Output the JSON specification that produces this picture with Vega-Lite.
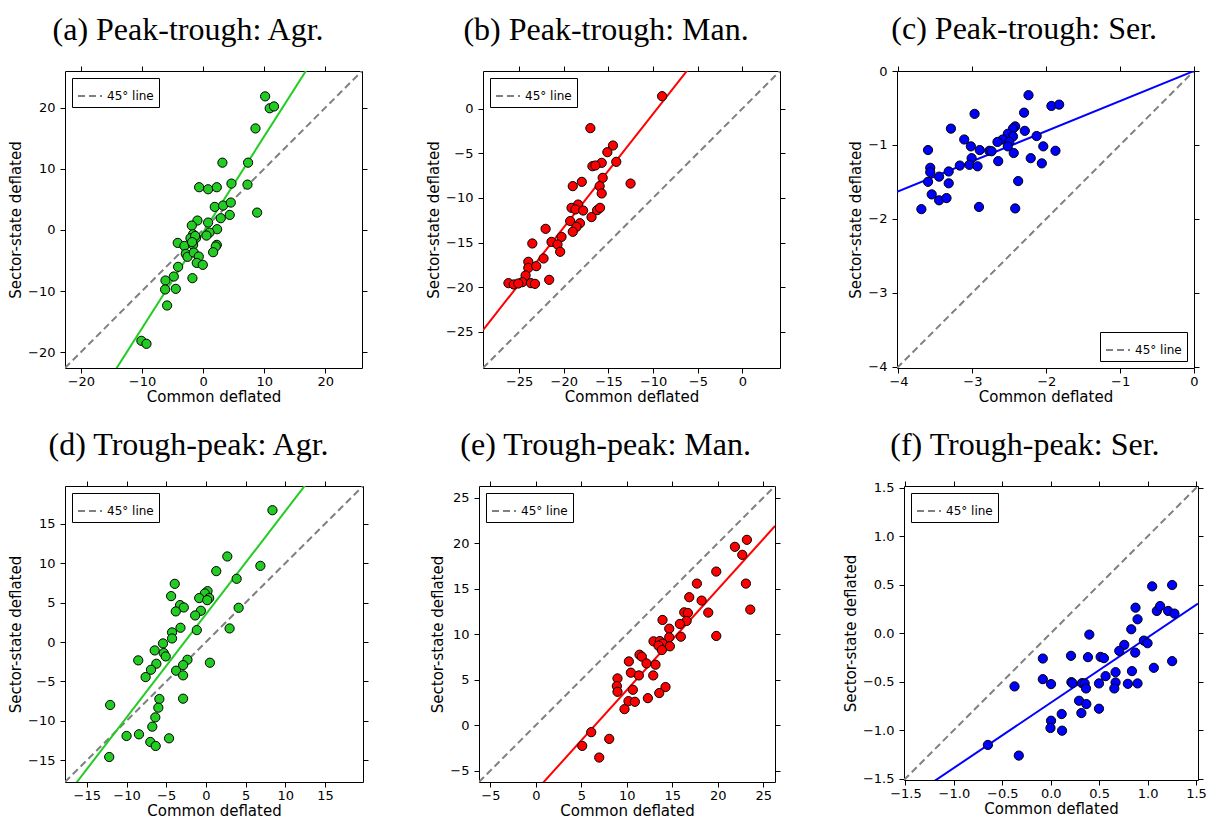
{
"$schema": "https://vega.github.io/schema/vega-lite/v6.json",
"background": "white",
"padding": {"left": 8, "top": 12, "right": 5, "bottom": 5},
"config": {
  "view": {"stroke": "black", "strokeWidth": 1},
  "axis": {"domain": false, "grid": false, "tickSize": 5, "tickColor": "black", "tickWidth": 1, "labelFont": "DejaVu Sans", "labelFontSize": 13, "labelColor": "black", "labelPadding": 5, "labelFlush": false, "labelOverlap": false, "titleFont": "DejaVu Sans", "titleFontSize": 15, "titleFontWeight": "normal", "titleColor": "black", "titlePadding": 4},
  "axisX": {"labelPadding": 2, "titlePadding": 1},
  "legend": {"strokeColor": "black", "fillColor": "white", "padding": 5, "cornerRadius": 0, "labelFont": "DejaVu Sans", "labelFontSize": 12, "labelColor": "black", "symbolType": "stroke", "symbolSize": 576, "symbolStrokeWidth": 2, "symbolStrokeColor": "#808080", "labelOffset": 4, "offset": 7},
  "title": {"font": "Liberation Serif", "fontSize": 32, "fontWeight": "normal", "color": "black", "anchor": "middle", "frame": "bounds", "offset": 19}
},
"datasets": {
  "a_pts": [{"x":10.15,"y":21.85},{"x":10.9,"y":19.9},{"x":11.6,"y":20.2},{"x":8.57,"y":16.6},{"x":3.16,"y":11.0},{"x":7.36,"y":11.0},{"x":-0.65,"y":6.98},{"x":0.82,"y":6.65},{"x":2.24,"y":6.98},{"x":4.64,"y":7.58},{"x":7.26,"y":7.41},{"x":1.91,"y":3.76},{"x":3.27,"y":3.98},{"x":4.53,"y":4.47},{"x":8.84,"y":2.83},{"x":2.89,"y":1.91},{"x":4.36,"y":2.45},{"x":-0.93,"y":1.53},{"x":0.82,"y":1.2},{"x":-1.85,"y":0.71},{"x":2.29,"y":0.11},{"x":1.04,"y":-0.44},{"x":0.55,"y":-0.93},{"x":-1.64,"y":-0.71},{"x":-2.07,"y":-1.36},{"x":-1.15,"y":-1.31},{"x":-4.15,"y":-2.13},{"x":-3.06,"y":-2.62},{"x":-1.64,"y":-2.45},{"x":2.24,"y":-2.45},{"x":2.07,"y":-2.72},{"x":-2.84,"y":-3.92},{"x":-2.56,"y":-4.41},{"x":-1.53,"y":-3.71},{"x":-0.71,"y":-4.36},{"x":1.64,"y":-3.65},{"x":-1.04,"y":-5.4},{"x":-0.05,"y":-5.72},{"x":-4.09,"y":-6.05},{"x":-4.8,"y":-7.63},{"x":-6.16,"y":-8.28},{"x":-6.22,"y":-9.75},{"x":-4.47,"y":-9.65},{"x":-1.75,"y":-7.9},{"x":-5.89,"y":-12.37},{"x":-10.1,"y":-18.15},{"x":-9.27,"y":-18.64},{"x":-1.3,"y":-1.0},{"x":-1.8,"y":-2.0}],
  "a_fit": [{"x":-22.6,"y":-35.88},{"x":26,"y":40.42}],
  "a_diag": [{"x":-22.6,"y":-22.6},{"x":26,"y":26}],
  "b_pts": [{"x":-9.0,"y":1.38},{"x":-17.03,"y":-2.2},{"x":-14.5,"y":-4.14},{"x":-15.13,"y":-4.89},{"x":-15.76,"y":-6.08},{"x":-16.8,"y":-6.46},{"x":-16.47,"y":-6.38},{"x":-14.13,"y":-5.97},{"x":-15.65,"y":-7.76},{"x":-15.99,"y":-8.69},{"x":-15.76,"y":-9.51},{"x":-17.99,"y":-8.21},{"x":-19.0,"y":-8.69},{"x":-12.53,"y":-8.4},{"x":-19.14,"y":-11.12},{"x":-18.4,"y":-10.75},{"x":-18.7,"y":-11.3},{"x":-17.84,"y":-11.42},{"x":-16.28,"y":-11.38},{"x":-15.95,"y":-11.12},{"x":-16.9,"y":-12.16},{"x":-19.29,"y":-12.6},{"x":-18.2,"y":-12.84},{"x":-18.59,"y":-13.25},{"x":-19.0,"y":-13.8},{"x":-22.04,"y":-13.47},{"x":-20.26,"y":-14.37},{"x":-21.38,"y":-14.93},{"x":-20.71,"y":-15.22},{"x":-23.53,"y":-15.11},{"x":-20.41,"y":-16.04},{"x":-22.27,"y":-16.79},{"x":-23.98,"y":-17.16},{"x":-23.98,"y":-17.84},{"x":-23.09,"y":-17.65},{"x":-24.28,"y":-18.69},{"x":-26.2,"y":-19.55},{"x":-25.6,"y":-19.7},{"x":-24.65,"y":-19.44},{"x":-23.68,"y":-19.55},{"x":-23.23,"y":-19.63},{"x":-21.64,"y":-19.18},{"x":-25.1,"y":-19.59}],
  "b_fit": [{"x":-29.05,"y":-24.8},{"x":4.2,"y":17.46}],
  "b_diag": [{"x":-29.05,"y":-29.05},{"x":4.2,"y":4.2}],
  "c_pts": [{"x":-2.24,"y":-0.327},{"x":-1.93,"y":-0.473},{"x":-1.825,"y":-0.455},{"x":-2.97,"y":-0.58},{"x":-2.3,"y":-0.564},{"x":-3.29,"y":-0.78},{"x":-2.42,"y":-0.75},{"x":-2.45,"y":-0.78},{"x":-2.29,"y":-0.81},{"x":-2.52,"y":-0.85},{"x":-2.45,"y":-0.886},{"x":-2.13,"y":-0.88},{"x":-3.11,"y":-0.927},{"x":-2.59,"y":-0.927},{"x":-2.66,"y":-0.96},{"x":-2.5,"y":-0.96},{"x":-3.02,"y":-1.02},{"x":-2.52,"y":-1.02},{"x":-2.04,"y":-1.02},{"x":-3.6,"y":-1.07},{"x":-2.9,"y":-1.07},{"x":-2.77,"y":-1.08},{"x":-2.74,"y":-1.086},{"x":-1.875,"y":-1.08},{"x":-2.44,"y":-1.11},{"x":-3.01,"y":-1.18},{"x":-2.21,"y":-1.18},{"x":-2.65,"y":-1.22},{"x":-3.17,"y":-1.28},{"x":-3.04,"y":-1.27},{"x":-2.93,"y":-1.29},{"x":-2.06,"y":-1.25},{"x":-3.57,"y":-1.31},{"x":-3.57,"y":-1.37},{"x":-3.32,"y":-1.36},{"x":-3.45,"y":-1.43},{"x":-3.6,"y":-1.5},{"x":-3.32,"y":-1.52},{"x":-2.38,"y":-1.49},{"x":-3.55,"y":-1.67},{"x":-3.45,"y":-1.75},{"x":-3.35,"y":-1.72},{"x":-3.69,"y":-1.87},{"x":-2.91,"y":-1.84},{"x":-2.42,"y":-1.86}],
  "c_fit": [{"x":-4.02,"y":-1.636},{"x":0,"y":0}],
  "c_diag": [{"x":-4.02,"y":-4.02},{"x":0,"y":0}],
  "d_pts": [{"x":8.39,"y":16.73},{"x":2.7,"y":10.86},{"x":6.87,"y":9.67},{"x":1.31,"y":9.0},{"x":3.88,"y":8.03},{"x":-3.92,"y":7.39},{"x":-4.38,"y":5.83},{"x":0.21,"y":6.46},{"x":-0.13,"y":6.17},{"x":-0.84,"y":5.58},{"x":0.42,"y":5.58},{"x":0.17,"y":5.32},{"x":-3.25,"y":4.69},{"x":-2.78,"y":4.39},{"x":-3.79,"y":3.89},{"x":-0.63,"y":3.97},{"x":-1.35,"y":3.38},{"x":4.13,"y":4.35},{"x":-3.2,"y":1.82},{"x":-1.14,"y":1.52},{"x":2.99,"y":1.73},{"x":-4.26,"y":1.23},{"x":-4.26,"y":0.46},{"x":-5.4,"y":-0.17},{"x":-6.45,"y":-1.06},{"x":-5.31,"y":-1.39},{"x":-5.06,"y":-1.82},{"x":-8.52,"y":-2.32},{"x":-2.32,"y":-2.24},{"x":-2.87,"y":-2.92},{"x":-6.24,"y":-2.75},{"x":-6.91,"y":-3.51},{"x":-3.75,"y":-3.63},{"x":-7.59,"y":-4.44},{"x":-2.87,"y":-4.22},{"x":0.51,"y":-2.62},{"x":-5.86,"y":-7.22},{"x":-5.99,"y":-8.32},{"x":-2.87,"y":-7.18},{"x":-12.06,"y":-7.98},{"x":-6.37,"y":-9.55},{"x":-6.75,"y":-10.73},{"x":-9.99,"y":-11.91},{"x":-8.43,"y":-11.7},{"x":-4.64,"y":-12.21},{"x":-7.0,"y":-12.67},{"x":-6.32,"y":-13.18},{"x":-12.18,"y":-14.58}],
  "d_fit": [{"x":-17.75,"y":-19.72},{"x":19.8,"y":29.43}],
  "d_diag": [{"x":-17.75,"y":-17.75},{"x":19.8,"y":19.8}],
  "e_pts": [{"x":23.21,"y":20.38},{"x":21.89,"y":19.61},{"x":22.7,"y":18.73},{"x":19.84,"y":16.89},{"x":17.71,"y":15.57},{"x":23.1,"y":15.57},{"x":16.87,"y":14.07},{"x":18.23,"y":13.7},{"x":23.58,"y":12.71},{"x":16.32,"y":12.41},{"x":16.72,"y":12.34},{"x":18.96,"y":12.38},{"x":16.58,"y":11.46},{"x":15.84,"y":11.13},{"x":13.93,"y":11.57},{"x":14.67,"y":10.61},{"x":15.95,"y":9.73},{"x":19.84,"y":9.81},{"x":14.67,"y":9.66},{"x":12.94,"y":9.22},{"x":13.64,"y":9.25},{"x":13.93,"y":8.96},{"x":13.49,"y":8.74},{"x":14.74,"y":8.67},{"x":13.86,"y":8.26},{"x":11.4,"y":7.75},{"x":11.66,"y":7.53},{"x":12.17,"y":6.79},{"x":13.16,"y":6.65},{"x":10.23,"y":7.01},{"x":10.45,"y":5.77},{"x":11.33,"y":5.47},{"x":12.91,"y":5.47},{"x":8.98,"y":5.14},{"x":8.91,"y":4.3},{"x":8.98,"y":3.67},{"x":10.67,"y":3.89},{"x":14.26,"y":4.19},{"x":13.57,"y":3.53},{"x":10.19,"y":2.64},{"x":10.89,"y":2.57},{"x":12.32,"y":2.97},{"x":9.75,"y":1.76},{"x":6.09,"y":-0.77},{"x":8.07,"y":-1.51},{"x":5.1,"y":-2.28},{"x":6.97,"y":-3.56}],
  "e_fit": [{"x":-6.25,"y":-14.13},{"x":26.3,"y":21.9}],
  "e_diag": [{"x":-6.25,"y":-6.25},{"x":26.3,"y":26.3}],
  "f_pts": [{"x":1.047,"y":0.484},{"x":1.253,"y":0.498},{"x":0.875,"y":0.264},{"x":1.095,"y":0.23},{"x":1.129,"y":0.281},{"x":1.212,"y":0.23},{"x":1.277,"y":0.203},{"x":0.896,"y":0.144},{"x":0.831,"y":0.041},{"x":0.398,"y":-0.014},{"x":0.961,"y":-0.076},{"x":0.999,"y":-0.103},{"x":0.759,"y":-0.12},{"x":0.707,"y":-0.182},{"x":0.872,"y":-0.2},{"x":-0.082,"y":-0.261},{"x":0.209,"y":-0.233},{"x":0.384,"y":-0.247},{"x":0.515,"y":-0.244},{"x":0.549,"y":-0.257},{"x":1.253,"y":-0.288},{"x":1.064,"y":-0.357},{"x":0.669,"y":-0.402},{"x":0.838,"y":-0.391},{"x":0.566,"y":-0.443},{"x":-0.082,"y":-0.474},{"x":0.003,"y":-0.525},{"x":0.213,"y":-0.505},{"x":0.223,"y":-0.515},{"x":0.323,"y":-0.515},{"x":0.35,"y":-0.518},{"x":0.498,"y":-0.518},{"x":0.669,"y":-0.508},{"x":0.796,"y":-0.522},{"x":0.896,"y":-0.518},{"x":-0.374,"y":-0.549},{"x":0.364,"y":-0.57},{"x":0.656,"y":-0.57},{"x":0.292,"y":-0.697},{"x":0.367,"y":-0.731},{"x":0.316,"y":-0.824},{"x":0.498,"y":-0.779},{"x":0.113,"y":-0.834},{"x":0.003,"y":-0.903},{"x":-0.003,"y":-0.978},{"x":0.117,"y":-1.006},{"x":-0.649,"y":-1.153},{"x":-0.33,"y":-1.263}],
  "f_fit": [{"x":-1.515,"y":-1.737},{"x":1.52,"y":0.306}],
  "f_diag": [{"x":-1.515,"y":-1.515},{"x":1.52,"y":1.52}]
},
"vconcat": [
 {"hconcat": [
   {"width": 297, "height": 297, "title": "(a) Peak-trough: Agr.",
    "layer": [
     {"data": {"name": "a_diag"}, "mark": {"type": "line", "clip": true, "color": "#808080", "strokeWidth": 2},
      "encoding": {
       "x": {"field": "x", "type": "quantitative", "scale": {"domain": [-22.6, 26], "nice": false, "zero": false}, "axis": {"values": [-20, -10, 0, 10, 20], "title": "Common deflated"}},
       "y": {"field": "y", "type": "quantitative", "scale": {"domain": [-22.6, 26], "nice": false, "zero": false}, "axis": {"values": [-20, -10, 0, 10, 20], "title": "Sector-state deflated"}},
       "strokeDash": {"datum": "45° line", "type": "nominal", "scale": {"range": [[7, 4]]}, "legend": {"title": null, "orient": "top-left"}}}},
     {"data": {"name": "a_fit"}, "mark": {"type": "line", "clip": true, "color": "#22cc22", "strokeWidth": 2},
      "encoding": {
       "x": {"field": "x", "type": "quantitative", "scale": {"domain": [-22.6, 26], "nice": false, "zero": false}, "axis": null},
       "y": {"field": "y", "type": "quantitative", "scale": {"domain": [-22.6, 26], "nice": false, "zero": false}, "axis": null}}},
     {"data": {"name": "a_pts"}, "mark": {"type": "circle", "fill": "#22cc22", "stroke": "black", "strokeWidth": 1, "size": 85, "opacity": 1},
      "encoding": {
       "x": {"field": "x", "type": "quantitative", "scale": {"domain": [-22.6, 26], "nice": false, "zero": false}, "axis": {"orient": "top", "labels": false, "title": null, "values": [-20, -10, 0, 10, 20]}},
       "y": {"field": "y", "type": "quantitative", "scale": {"domain": [-22.6, 26], "nice": false, "zero": false}, "axis": {"orient": "right", "labels": false, "title": null, "values": [-20, -10, 0, 10, 20]}}}}
    ],
    "resolve": {"axis": {"x": "independent", "y": "independent"}}},
   {"hconcat": [
     {"width": 297, "height": 297, "title": "(b) Peak-trough: Man.",
      "layer": [
       {"data": {"name": "b_diag"}, "mark": {"type": "line", "clip": true, "color": "#808080", "strokeWidth": 2},
        "encoding": {
         "x": {"field": "x", "type": "quantitative", "scale": {"domain": [-29.05, 4.2], "nice": false, "zero": false}, "axis": {"values": [-25, -20, -15, -10, -5, 0], "title": "Common deflated"}},
         "y": {"field": "y", "type": "quantitative", "scale": {"domain": [-29.05, 4.2], "nice": false, "zero": false}, "axis": {"values": [-25, -20, -15, -10, -5, 0], "title": "Sector-state deflated"}},
         "strokeDash": {"datum": "45° line", "type": "nominal", "scale": {"range": [[7, 4]]}, "legend": {"title": null, "orient": "top-left"}}}},
       {"data": {"name": "b_fit"}, "mark": {"type": "line", "clip": true, "color": "#ff0000", "strokeWidth": 2},
        "encoding": {
         "x": {"field": "x", "type": "quantitative", "scale": {"domain": [-29.05, 4.2], "nice": false, "zero": false}, "axis": null},
         "y": {"field": "y", "type": "quantitative", "scale": {"domain": [-29.05, 4.2], "nice": false, "zero": false}, "axis": null}}},
       {"data": {"name": "b_pts"}, "mark": {"type": "circle", "fill": "#ff0000", "stroke": "black", "strokeWidth": 1, "size": 85, "opacity": 1},
        "encoding": {
         "x": {"field": "x", "type": "quantitative", "scale": {"domain": [-29.05, 4.2], "nice": false, "zero": false}, "axis": {"orient": "top", "labels": false, "title": null, "values": [-25, -20, -15, -10, -5, 0]}},
         "y": {"field": "y", "type": "quantitative", "scale": {"domain": [-29.05, 4.2], "nice": false, "zero": false}, "axis": {"orient": "right", "labels": false, "title": null, "values": [-25, -20, -15, -10, -5, 0]}}}}
      ],
      "resolve": {"axis": {"x": "independent", "y": "independent"}}},
     {"width": 297, "height": 297, "title": "(c) Peak-trough: Ser.",
      "layer": [
       {"data": {"name": "c_diag"}, "mark": {"type": "line", "clip": true, "color": "#808080", "strokeWidth": 2},
        "encoding": {
         "x": {"field": "x", "type": "quantitative", "scale": {"domain": [-4.02, 0], "nice": false, "zero": false}, "axis": {"values": [-4, -3, -2, -1, 0], "title": "Common deflated"}},
         "y": {"field": "y", "type": "quantitative", "scale": {"domain": [-4.02, 0], "nice": false, "zero": false}, "axis": {"values": [-4, -3, -2, -1, 0], "title": "Sector-state deflated"}},
         "strokeDash": {"datum": "45° line", "type": "nominal", "scale": {"range": [[7, 4]]}, "legend": {"title": null, "orient": "bottom-right", "offset": 7}}}},
       {"data": {"name": "c_fit"}, "mark": {"type": "line", "clip": true, "color": "#0000ff", "strokeWidth": 2},
        "encoding": {
         "x": {"field": "x", "type": "quantitative", "scale": {"domain": [-4.02, 0], "nice": false, "zero": false}, "axis": null},
         "y": {"field": "y", "type": "quantitative", "scale": {"domain": [-4.02, 0], "nice": false, "zero": false}, "axis": null}}},
       {"data": {"name": "c_pts"}, "mark": {"type": "circle", "fill": "#0000ff", "stroke": "black", "strokeWidth": 1, "size": 85, "opacity": 1},
        "encoding": {
         "x": {"field": "x", "type": "quantitative", "scale": {"domain": [-4.02, 0], "nice": false, "zero": false}, "axis": {"orient": "top", "labels": false, "title": null, "values": [-4, -3, -2, -1, 0]}},
         "y": {"field": "y", "type": "quantitative", "scale": {"domain": [-4.02, 0], "nice": false, "zero": false}, "axis": {"orient": "right", "labels": false, "title": null, "values": [-4, -3, -2, -1, 0]}}}}
      ],
      "resolve": {"axis": {"x": "independent", "y": "independent"}}}
    ],
    "spacing": 117, "bounds": "flush",
    "resolve": {"scale": {"strokeDash": "independent"}, "legend": {"strokeDash": "independent"}}}
  ],
  "spacing": 121, "bounds": "flush",
  "resolve": {"scale": {"strokeDash": "independent"}, "legend": {"strokeDash": "independent"}}},
 {"hconcat": [
   {"width": 298, "height": 296, "title": "(d) Trough-peak: Agr.",
    "layer": [
     {"data": {"name": "d_diag"}, "mark": {"type": "line", "clip": true, "color": "#808080", "strokeWidth": 2},
      "encoding": {
       "x": {"field": "x", "type": "quantitative", "scale": {"domain": [-17.75, 19.8], "nice": false, "zero": false}, "axis": {"values": [-15, -10, -5, 0, 5, 10, 15], "title": "Common deflated"}},
       "y": {"field": "y", "type": "quantitative", "scale": {"domain": [-17.75, 19.8], "nice": false, "zero": false}, "axis": {"values": [-15, -10, -5, 0, 5, 10, 15], "title": "Sector-state deflated"}},
       "strokeDash": {"datum": "45° line", "type": "nominal", "scale": {"range": [[7, 4]]}, "legend": {"title": null, "orient": "top-left"}}}},
     {"data": {"name": "d_fit"}, "mark": {"type": "line", "clip": true, "color": "#22cc22", "strokeWidth": 2},
      "encoding": {
       "x": {"field": "x", "type": "quantitative", "scale": {"domain": [-17.75, 19.8], "nice": false, "zero": false}, "axis": null},
       "y": {"field": "y", "type": "quantitative", "scale": {"domain": [-17.75, 19.8], "nice": false, "zero": false}, "axis": null}}},
     {"data": {"name": "d_pts"}, "mark": {"type": "circle", "fill": "#22cc22", "stroke": "black", "strokeWidth": 1, "size": 85, "opacity": 1},
      "encoding": {
       "x": {"field": "x", "type": "quantitative", "scale": {"domain": [-17.75, 19.8], "nice": false, "zero": false}, "axis": {"orient": "top", "labels": false, "title": null, "values": [-15, -10, -5, 0, 5, 10, 15]}},
       "y": {"field": "y", "type": "quantitative", "scale": {"domain": [-17.75, 19.8], "nice": false, "zero": false}, "axis": {"orient": "right", "labels": false, "title": null, "values": [-15, -10, -5, 0, 5, 10, 15]}}}}
    ],
    "resolve": {"axis": {"x": "independent", "y": "independent"}}},
   {"hconcat": [
     {"width": 296, "height": 296, "title": "(e) Trough-peak: Man.",
      "layer": [
       {"data": {"name": "e_diag"}, "mark": {"type": "line", "clip": true, "color": "#808080", "strokeWidth": 2},
        "encoding": {
         "x": {"field": "x", "type": "quantitative", "scale": {"domain": [-6.25, 26.3], "nice": false, "zero": false}, "axis": {"values": [-5, 0, 5, 10, 15, 20, 25], "title": "Common deflated"}},
         "y": {"field": "y", "type": "quantitative", "scale": {"domain": [-6.25, 26.3], "nice": false, "zero": false}, "axis": {"values": [-5, 0, 5, 10, 15, 20, 25], "title": "Sector-state deflated"}},
         "strokeDash": {"datum": "45° line", "type": "nominal", "scale": {"range": [[7, 4]]}, "legend": {"title": null, "orient": "top-left"}}}},
       {"data": {"name": "e_fit"}, "mark": {"type": "line", "clip": true, "color": "#ff0000", "strokeWidth": 2},
        "encoding": {
         "x": {"field": "x", "type": "quantitative", "scale": {"domain": [-6.25, 26.3], "nice": false, "zero": false}, "axis": null},
         "y": {"field": "y", "type": "quantitative", "scale": {"domain": [-6.25, 26.3], "nice": false, "zero": false}, "axis": null}}},
       {"data": {"name": "e_pts"}, "mark": {"type": "circle", "fill": "#ff0000", "stroke": "black", "strokeWidth": 1, "size": 85, "opacity": 1},
        "encoding": {
         "x": {"field": "x", "type": "quantitative", "scale": {"domain": [-6.25, 26.3], "nice": false, "zero": false}, "axis": {"orient": "top", "labels": false, "title": null, "values": [-5, 0, 5, 10, 15, 20, 25]}},
         "y": {"field": "y", "type": "quantitative", "scale": {"domain": [-6.25, 26.3], "nice": false, "zero": false}, "axis": {"orient": "right", "labels": false, "title": null, "values": [-5, 0, 5, 10, 15, 20, 25]}}}}
      ],
      "resolve": {"axis": {"x": "independent", "y": "independent"}}},
     {"width": 294, "height": 294, "title": "(f) Trough-peak: Ser.",
      "layer": [
       {"data": {"name": "f_diag"}, "mark": {"type": "line", "clip": true, "color": "#808080", "strokeWidth": 2},
        "encoding": {
         "x": {"field": "x", "type": "quantitative", "scale": {"domain": [-1.515, 1.52], "nice": false, "zero": false}, "axis": {"values": [-1.5, -1, -0.5, 0, 0.5, 1, 1.5], "format": ".1f", "title": "Common deflated"}},
         "y": {"field": "y", "type": "quantitative", "scale": {"domain": [-1.515, 1.52], "nice": false, "zero": false}, "axis": {"values": [-1.5, -1, -0.5, 0, 0.5, 1, 1.5], "format": ".1f", "title": "Sector-state deflated"}},
         "strokeDash": {"datum": "45° line", "type": "nominal", "scale": {"range": [[7, 4]]}, "legend": {"title": null, "orient": "top-left"}}}},
       {"data": {"name": "f_fit"}, "mark": {"type": "line", "clip": true, "color": "#0000ff", "strokeWidth": 2},
        "encoding": {
         "x": {"field": "x", "type": "quantitative", "scale": {"domain": [-1.515, 1.52], "nice": false, "zero": false}, "axis": null},
         "y": {"field": "y", "type": "quantitative", "scale": {"domain": [-1.515, 1.52], "nice": false, "zero": false}, "axis": null}}},
       {"data": {"name": "f_pts"}, "mark": {"type": "circle", "fill": "#0000ff", "stroke": "black", "strokeWidth": 1, "size": 85, "opacity": 1},
        "encoding": {
         "x": {"field": "x", "type": "quantitative", "scale": {"domain": [-1.515, 1.52], "nice": false, "zero": false}, "axis": {"orient": "top", "labels": false, "title": null, "values": [-1.5, -1, -0.5, 0, 0.5, 1, 1.5]}},
         "y": {"field": "y", "type": "quantitative", "scale": {"domain": [-1.515, 1.52], "nice": false, "zero": false}, "axis": {"orient": "right", "labels": false, "title": null, "values": [-1.5, -1, -0.5, 0, 0.5, 1, 1.5]}}}}
      ],
      "resolve": {"axis": {"x": "independent", "y": "independent"}}}
    ],
    "spacing": 129, "bounds": "flush",
    "resolve": {"scale": {"strokeDash": "independent"}, "legend": {"strokeDash": "independent"}}}
  ],
  "spacing": 116, "bounds": "flush",
  "resolve": {"scale": {"strokeDash": "independent"}, "legend": {"strokeDash": "independent"}}}
],
"spacing": 23,
"resolve": {"scale": {"strokeDash": "independent"}, "legend": {"strokeDash": "independent"}}
}
